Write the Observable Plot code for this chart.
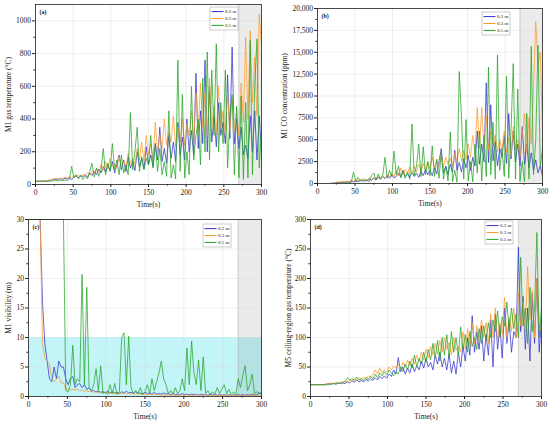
<!DOCTYPE html>
<html><head><meta charset="utf-8">
<script src="https://cdn.jsdelivr.net/npm/d3@7"></script>
<script src="https://cdn.jsdelivr.net/npm/@observablehq/plot@0.6"></script>
<style>
body{margin:0;background:#fff;}
#wrap{position:relative;width:550px;height:422px;background:#fff;}
.panel{position:absolute;}
</style></head><body><div id="wrap"></div>
<script>
// time axis, seconds (sampled every 3 s)
const time = d3.range(0, 301, 3);
const seriesNames = ["0.2 m", "0.3 m", "0.5 m"];
const seriesColors = ["#3030cc", "#ff9a28", "#22a322"];
const xTicks = [0, 50, 100, 150, 200, 250, 300];
const xMinor = [25, 75, 125, 175, 225, 275];
const shaded = [{x1: 270, x2: 300}];
const visBand = [{x1: 0, x2: 300, y1: 0, y2: 10}];

// (a) M1 gas temperature (°C)
const aBlue = [20,20,20,20,20,21,24,28,30,33, 31,36,30,38,34,42,30,45,50,40, 55,48,60,45,70,55,80,60,95,70,
  110,75,120,85,140,70,120,180,90,150, 80,170,100,140,85,200,110,160,95,230, 120,180,110,250,150,350,140,220,130,300,
  160,260,140,380,180,290,150,400,200,330, 180,680,220,450,250,760,200,600,260,420, 230,500,300,380,250,670,280,840,250,400,
  220,350,180,240,160,420,200,450,150,420, 200];
const aOrange = [20,20,20,20,20,22,26,30,35,38, 33,40,36,45,38,50,42,55,48,60, 50,62,55,70,58,80,65,100,75,120,
  85,140,95,160,110,130,100,170,120,140, 110,190,130,160,120,220,150,260,140,300, 180,250,160,380,200,300,220,400,240,320,
  260,420,230,350,260,400,240,370,300,450, 260,560,320,620,350,560,300,650,340,480, 310,600,350,450,300,560,320,520,340,460,
  300,620,380,900,400,940,500,780,420,1040, 850];
const aGreen = [20,20,20,20,20,20,20,21,22,24, 22,25,24,27,25,30,110,40,60,35, 55,30,50,35,80,130,45,100,50,90,
  220,60,130,80,250,90,150,60,180,70, 120,60,440,90,200,350,80,170,90,160, 120,300,100,250,80,220,60,140,50,450,
  40,120,35,760,80,550,40,200,60,600, 150,300,400,120,650,200,810,150,700,300, 860,200,500,250,700,100,420,550,60,480,
  40,540,30,500,40,880,60,600,890,100, 330];

// (b) M1 CO concentration (ppm)
const bBlue = [0,0,0,0,0,0,10,40,80,150, 100,180,120,200,150,250,180,300,200,350, 250,400,300,500,350,600,400,700,500,800,
  550,900,600,1000,650,800,1200,700,1500,800, 1100,700,1300,800,1200,700,1400,900,1600,1000, 1500,900,1800,1100,2500,4000,1200,2000,1000,2200,
  1300,3800,1500,2400,1300,2800,1800,3200,1500,3000, 2000,6000,2200,4500,2500,11500,2400,9000,2600,4800, 2000,4000,3000,5500,2300,8000,2800,6000,2500,4500,
  2000,6500,2200,4500,1800,3500,1500,2700,1200,2000, 800];
const bOrange = [0,0,0,0,0,0,20,60,100,200, 150,250,180,300,220,380,250,450,300,500, 380,550,400,650,450,700,500,850,550,900,
  650,1000,700,1200,800,1500,900,1800,1000,1600, 1100,1900,1200,2000,1300,2200,1400,2300,1500,2500, 1700,3000,1800,2600,2000,3200,1900,3000,2200,2900,
  2000,3500,2500,4000,2600,3800,2700,4500,3000,5500, 3500,8700,4000,8700,4000,7800,3800,6000,4200,5500, 3600,5000,3800,6000,3500,5200,3200,6500,3800,5000,
  3000,5500,8000,3500,7500,4500,10800,18500,13500,15000, 6000];
const bGreen = [0,0,0,0,0,0,0,0,20,50, 30,80,50,100,80,150,1300,200,700,300, 500,250,400,200,900,1200,400,1100,500,900,
  3000,600,1500,800,3700,1000,2000,700,1500,600, 1300,500,6800,900,2000,4500,800,4200,1000,2500, 900,4300,800,2800,600,3500,500,2000,300,5900,
  200,1500,150,12800,7600,500,7300,300,2500,200, 4500,1200,6000,300,5500,800,13300,1000,7000,500, 14700,1500,4000,800,12300,600,6000,13700,500,10800,
  300,2500,200,8000,500,15700,1000,5000,15800,2000, 4000];

// (c) M1 visibility (m)
const cBlue = [30,30,30,30,30,30,16,9,6,3, 2.5,5,3,6,5,5,3,2,3,3.4, 1.5,2,2.2,1.5,2,1.2,1.5,0.9,1,0.8,
  0.9,0.7,0.8,0.6,0.9,0.6,0.8,0.6,0.7,0.5, 0.8,0.6,0.9,0.6,0.7,0.5,0.8,0.5,0.6,0.4, 0.7,0.5,0.6,0.4,0.7,0.4,0.5,0.4,0.6,0.4,
  0.5,0.3,0.5,0.3,0.4,0.3,0.5,0.3,0.4,0.3, 0.4,0.3,0.4,0.2,0.4,0.3,0.3,0.2,0.4,0.3, 0.3,0.2,0.4,0.2,0.3,0.2,0.3,0.2,0.3,0.2,
  0.3,0.2,0.3,0.2,0.3,0.2,0.4,0.2,0.3,0.5, 0.6];
const cOrange = [30,30,30,30,30,30,9,6.5,6,5.5, 3,2.5,3,3.5,2.3,2.3,1.2,1.3,1.1,1.2, 1.1,1.2,1,1.1,0.9,1,0.8,0.9,0.7,0.8,
  0.6,0.8,0.6,0.7,0.5,0.6,0.5,0.6,0.4,0.6, 0.5,0.6,0.4,0.5,0.4,0.5,0.3,0.5,0.4,0.3, 0.4,0.3,0.4,0.3,0.4,0.3,0.3,0.2,0.3,0.2,
  0.3,0.2,0.3,0.2,0.2,0.3,0.2,0.2,0.3,0.2, 0.2,0.2,0.3,0.2,0.2,0.2,0.3,0.2,0.2,0.2, 0.2,0.2,0.2,0.2,0.2,0.2,0.2,0.2,0.2,0.2,
  0.2,0.2,0.2,0.2,0.2,0.2,0.2,0.2,0.2,0.2, 0.2];
const cGreen = [30,30,30,30,30,30,30,30,30,30, 30,30,30,30,30,30,1,0.8,2,8.7, 2,3,2.5,20.7,2,18.5,1.5,1,2,4.7,
  1,5.2,0.5,0.8,0.4,2,0.5,2.2,0.4,0.8, 10,10.8,2,10.2,1.5,0.5,1,0.5,1.5,0.4, 0.8,2,0.5,3,1,2.5,4,6,3,2,
  0.5,1,0.4,1.5,0.5,1,3,1,8.2,2, 9.4,4,2,6.2,1,6.7,0.5,1,0.3,0.8, 0.4,1.5,0.5,1.2,2,0.5,1.2,0.4,0.8,0.3,
  3,1.5,3.7,5.2,1,2,3.8,0.5,0.8,0.6, 0.5];

// (d) M5 ceiling-region gas temperature (°C)
const dBlue = [20,20,20,20,20,20,20,21,22,21, 22,21,23,22,23,22,25,23,27,24, 28,25,27,25,29,26,30,27,32,28,
  34,30,35,31,38,34,45,38,66,42, 50,38,48,40,55,42,52,45,60,48, 65,50,58,45,70,55,75,50,65,45,
  72,40,60,38,75,50,85,60,100,70, 137,75,110,80,120,60,105,70,130,50, 140,80,120,65,150,90,130,75,110,100,
  253,110,170,80,150,60,175,90,200,75, 130];
const dOrange = [20,20,20,20,20,20,20,22,21,23, 22,24,23,25,24,26,25,28,26,30, 27,32,29,33,30,35,32,38,45,38,
  48,40,45,42,50,45,52,48,55,46, 58,50,62,52,65,55,70,58,75,62, 80,65,85,70,90,72,95,75,100,80,
  92,70,100,78,85,75,110,80,115,85, 125,90,120,95,130,100,125,90,140,100, 150,95,125,105,168,100,135,110,150,100,
  175,120,160,110,220,130,180,100,200,120, 110];
const dGreen = [20,20,20,20,20,20,20,20,20,21, 22,21,23,22,24,25,32,28,30,27, 33,28,30,27,32,29,34,30,38,32,
  40,35,42,36,45,40,35,42,38,50, 42,55,45,60,48,70,50,65,55,75, 58,80,62,90,65,95,60,100,70,105,
  65,110,75,100,70,118,80,105,75,110, 85,100,80,115,90,120,95,125,100,130, 110,145,100,135,120,160,110,150,115,140,
  100,236,120,150,90,185,110,150,278,100, 150];

const aTicks = [0, 200, 400, 600, 800, 1000];
const aMinor = [100, 300, 500, 700, 900];
const bTicks = [0, 2500, 5000, 7500, 10000, 12500, 15000, 17500, 20000];
const bMinor = [1250, 3750, 6250, 8750, 11250, 13750, 16250, 18750];
const cTicks = [0, 5, 10, 15, 20, 25, 30];
const cMinor = [2.5, 7.5, 12.5, 17.5, 22.5, 27.5];
const dTicks = [0, 50, 100, 150, 200, 250, 300];
const dMinor = [25, 75, 125, 175, 225, 275];

const panels = [
  {tag: "(a)", left: 0, top: 0, ml: 35, mr: 14, mt: 4, mb: 27, yMax: 1100, yTicks: aTicks, yMinor: aMinor,
   label: "M1 gas temperature (°C)", yOff: 30, series: [aBlue, aOrange, aGreen], legend: [210, 7]},
  {tag: "(b)", left: 275, top: 0, ml: 42, mr: 8, mt: 8, mb: 28, yMax: 20000, yTicks: bTicks, yMinor: bMinor,
   label: "M1 CO concentration (ppm)", yOff: 36, series: [bBlue, bOrange, bGreen], legend: [207, 12],
   fmt: d => d >= 10000 ? d3.format(",")(d) : String(d)},
  {tag: "(c)", left: 0, top: 211, ml: 28, mr: 14, mt: 8, mb: 26, yMax: 30, yTicks: cTicks, yMinor: cMinor,
   label: "M1 visibility (m)", yOff: 23, series: [cBlue, cOrange, cGreen], legend: [203, 13], band: true},
  {tag: "(d)", left: 275, top: 211, ml: 35, mr: 9, mt: 8, mb: 26, yMax: 300, yTicks: dTicks, yMinor: dMinor,
   label: "M5 ceiling-region gas temperature (°C)", yOff: 25, series: [dBlue, dOrange, dGreen], legend: [210, 10]}
];

const wrap = document.getElementById("wrap");
const font = "'Liberation Serif', 'Times New Roman', serif";

for (const p of panels) {
  const rows = [];
  p.series.forEach((vals, k) => vals.forEach((v, i) => rows.push({t: time[i], v, s: seriesNames[k]})));
  const marks = [];
  if (p.band) marks.push(Plot.rect(visBand, {x1: "x1", x2: "x2", y1: "y1", y2: "y2", fill: "#c3f5f8"}));
  marks.push(Plot.rect(shaded, {x1: "x1", x2: "x2", fill: "#000", fillOpacity: 0.08}));
  marks.push(Plot.ruleX(shaded, {x: "x1", stroke: "#bbb", strokeWidth: 0.6}));
  marks.push(Plot.gridX(xTicks, {stroke: "#d8d8d8", strokeOpacity: 0.8, strokeWidth: 0.5}));
  marks.push(Plot.gridY(p.yTicks, {stroke: "#d8d8d8", strokeOpacity: 0.8, strokeWidth: 0.5}));
  marks.push(Plot.line(rows, {x: "t", y: "v", z: "s", stroke: "s", strokeWidth: 0.85, strokeOpacity: 0.88, clip: true}));
  marks.push(Plot.frame({stroke: "#222", strokeWidth: 0.8}));
  marks.push(Plot.axisX(xTicks, {tickSize: 3, tickPadding: 2, fontSize: 7.5, label: "Time(s)", labelAnchor: "center", labelArrow: "none", labelOffset: 22}));
  marks.push(Plot.axisX(xMinor, {tickSize: 1.6, text: null, label: null}));
  marks.push(Plot.axisY(p.yTicks, {tickSize: 3, tickPadding: 1.5, fontSize: 7.5, tickFormat: p.fmt || (d => String(d)),
    label: p.label, labelAnchor: "center", labelArrow: "none", labelOffset: p.yOff}));
  marks.push(Plot.axisY(p.yMinor, {tickSize: 1.6, text: null, label: null}));
  marks.push(Plot.text([p.tag], {text: d => d, frameAnchor: "top-left", dx: 4, dy: 5, fontSize: 6, fontWeight: "bold", textAnchor: "start"}));

  const svg = Plot.plot({
    width: 275, height: 211,
    marginLeft: p.ml, marginRight: p.mr, marginTop: p.mt, marginBottom: p.mb,
    style: {fontFamily: font, fontSize: "5.5px", background: "white", color: "#222", overflow: "visible"},
    x: {domain: [0, 300]},
    y: {domain: [0, p.yMax]},
    color: {domain: seriesNames, range: seriesColors},
    marks
  });
  const div = document.createElement("div");
  div.className = "panel";
  div.style.left = p.left + "px";
  div.style.top = p.top + "px";
  div.appendChild(svg);
  wrap.appendChild(div);

  // legend box
  const [lx, ly] = p.legend;
  const g = d3.select(svg).append("g").attr("font-family", font).attr("font-size", 5).attr("text-anchor", "start");
  g.append("rect").attr("x", lx).attr("y", ly).attr("width", 28).attr("height", 23)
    .attr("fill", "white").attr("stroke", "#aaa").attr("stroke-width", 0.6);
  seriesNames.forEach((name, k) => {
    const yy = ly + 4.6 + k * 6.9;
    g.append("line").attr("x1", lx + 1.5).attr("x2", lx + 13.5).attr("y1", yy).attr("y2", yy)
      .attr("stroke", seriesColors[k]).attr("stroke-width", 1);
    g.append("text").attr("x", lx + 15).attr("y", yy).attr("dy", "0.35em")
      .attr("text-anchor", "start").attr("fill", "#222").text(name);
  });
}
</script></body></html>
